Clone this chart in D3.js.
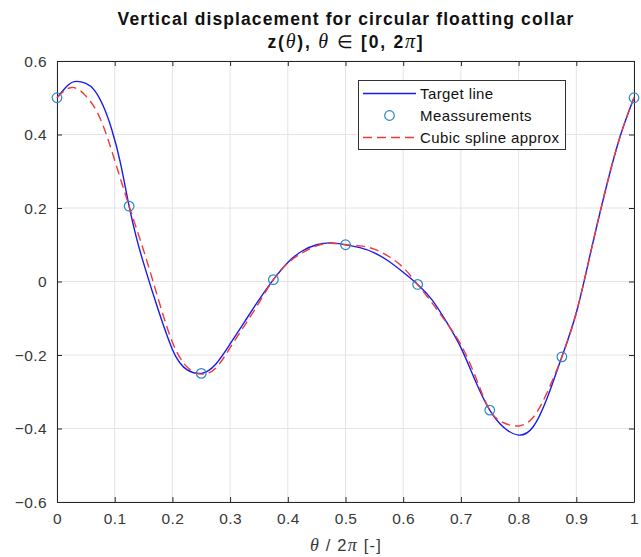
<!DOCTYPE html>
<html><head><meta charset="utf-8">
<script src="https://cdn.jsdelivr.net/npm/d3@7"></script>
<style>body{margin:0;background:#fff;}svg{display:block;font-family:"Liberation Sans",Arial,sans-serif;}</style>
</head><body>
<script>
// Target line samples (theta/2pi, z)
const targetT = [0,0.015,0.03,0.05,0.065,0.08,0.095,0.11,0.125,0.1375,0.15,0.175,0.2,0.2125,0.225,0.25,0.275,0.3,0.325,0.35,0.375,0.4,0.425,0.45,0.475,0.5,0.525,0.55,0.575,0.6,0.625,0.65,0.675,0.7,0.725,0.75,0.775,0.8,0.825,0.85,0.875,0.9,0.925,0.95,0.975,1];
const targetZ = [0.5,0.528,0.544,0.539,0.52,0.478,0.413,0.322,0.205,0.12,0.05,-0.075,-0.185,-0.22,-0.24,-0.25,-0.225,-0.17,-0.11,-0.05,0.005,0.052,0.083,0.1,0.105,0.1,0.092,0.078,0.055,0.025,-0.008,-0.05,-0.11,-0.18,-0.27,-0.35,-0.398,-0.418,-0.396,-0.315,-0.205,-0.085,0.08,0.245,0.39,0.5];
// Measurements
const measT = [0,0.125,0.25,0.375,0.5,0.625,0.75,0.875,1];
const measZ = [0.5,0.205,-0.25,0.005,0.1,-0.008,-0.35,-0.205,0.5];
// Cubic spline approximation samples
const splineT = [0,0.025,0.05,0.075,0.1,0.125,0.15,0.175,0.2,0.225,0.25,0.275,0.3,0.325,0.35,0.375,0.4,0.425,0.45,0.475,0.5,0.525,0.55,0.575,0.6,0.625,0.65,0.675,0.7,0.725,0.75,0.775,0.8,0.825,0.85,0.875,0.9,0.925,0.95,0.975,1];
const splineZ = [0.5,0.528,0.505,0.443,0.33,0.205,0.085,-0.045,-0.165,-0.232,-0.252,-0.236,-0.18,-0.12,-0.058,0.005,0.05,0.078,0.097,0.104,0.1,0.097,0.088,0.068,0.038,-0.008,-0.058,-0.112,-0.172,-0.258,-0.35,-0.385,-0.393,-0.37,-0.3,-0.205,-0.085,0.08,0.245,0.39,0.5];
const xTicks = [0,0.1,0.2,0.3,0.4,0.5,0.6,0.7,0.8,0.9,1];
const yTicks = [-0.6,-0.4,-0.2,0,0.2,0.4,0.6];
const legendLabels = ["Target line","Meassurements","Cubic spline approx"];

const W=641,H=557, L=57, R=634, T=61, B=502;
const svg=d3.select("body").append("svg").attr("width",W).attr("height",H);
const x=d3.scaleLinear().domain([0,1]).range([L,R]);
const y=d3.scaleLinear().domain([-0.6,0.6]).range([B,T]);
const axisCol="#262626";

// grid
svg.append("g").selectAll("line").data(xTicks).join("line")
  .attr("x1",d=>x(d)).attr("x2",d=>x(d)).attr("y1",T).attr("y2",B)
  .attr("stroke","#e4e4e4").attr("stroke-width",1);
svg.append("g").selectAll("line").data(yTicks).join("line")
  .attr("y1",d=>y(d)).attr("y2",d=>y(d)).attr("x1",L).attr("x2",R)
  .attr("stroke","#e4e4e4").attr("stroke-width",1);

// axes
const tl=5;
const xb=svg.append("g").attr("transform",`translate(0,${B})`)
  .call(d3.axisBottom(x).tickValues(xTicks).tickFormat(d3.format("")).tickSizeInner(-tl).tickSizeOuter(0).tickPadding(11));
const xt=svg.append("g").attr("transform",`translate(0,${T})`)
  .call(d3.axisTop(x).tickValues(xTicks).tickFormat("").tickSizeInner(-tl).tickSizeOuter(0));
const yl=svg.append("g").attr("transform",`translate(${L},0)`)
  .call(d3.axisLeft(y).tickValues(yTicks).tickFormat(d3.format("")).tickSizeInner(-tl).tickSizeOuter(0).tickPadding(10));
const yr=svg.append("g").attr("transform",`translate(${R},0)`)
  .call(d3.axisRight(y).tickValues(yTicks).tickFormat("").tickSizeInner(-tl).tickSizeOuter(0));
[xb,xt,yl,yr].forEach(g=>{
  g.selectAll("path,line").attr("stroke",axisCol).attr("stroke-width",1);
  g.selectAll("text").attr("fill","#383838").attr("font-size",15.5).attr("letter-spacing",0.4)
   .attr("font-family","Liberation Sans, Arial, sans-serif");
});
yl.selectAll("text").attr("dy","0.35em");

const line=d3.line().x(d=>x(d[0])).y(d=>y(d[1])).curve(d3.curveNatural);
svg.append("path").datum(targetT.map((t,i)=>[t,targetZ[i]]))
  .attr("d",line).attr("fill","none").attr("stroke","#1a1af0").attr("stroke-width",1.4);
svg.append("path").datum(splineT.map((t,i)=>[t,splineZ[i]]))
  .attr("d",line).attr("fill","none").attr("stroke","#f03a3a").attr("stroke-width",1.4).attr("stroke-dasharray","9,5");
svg.append("g").selectAll("circle").data(measT.map((t,i)=>[t,measZ[i]])).join("circle")
  .attr("cx",d=>x(d[0])).attr("cy",d=>y(d[1])).attr("r",4.8)
  .attr("fill","none").attr("stroke","#2a86c8").attr("stroke-width",1.2);

// title
const title=svg.append("text").attr("x",346).attr("y",25).attr("text-anchor","middle")
  .attr("font-size",17.5).attr("font-weight","bold").attr("fill","#111").attr("letter-spacing",1.1)
  .text("Vertical displacement for circular floatting collar");
const t2=svg.append("text").attr("x",346).attr("y",48).attr("text-anchor","middle")
  .attr("font-size",17.5).attr("font-weight","bold").attr("fill","#111").attr("letter-spacing",1.8);
t2.append("tspan").text("z(");
t2.append("tspan").attr("font-style","italic").attr("font-weight","normal").attr("font-size",20).attr("font-family","Liberation Serif, serif").text("θ");
t2.append("tspan").text("), ");
t2.append("tspan").attr("font-style","italic").attr("font-weight","normal").attr("font-size",20).attr("font-family","Liberation Serif, serif").text("θ");
t2.append("tspan").attr("font-weight","normal").text(" ∈ ");
t2.append("tspan").text("[0, 2");
t2.append("tspan").attr("font-style","italic").attr("font-weight","normal").attr("font-size",20).attr("font-family","Liberation Serif, serif").text("π");
t2.append("tspan").text("]");

// x label
const xlab=svg.append("text").attr("x",346).attr("y",551).attr("text-anchor","middle")
  .attr("font-size",16.5).attr("fill","#383838").attr("letter-spacing",1.2);
xlab.append("tspan").attr("font-style","italic").attr("font-family","Liberation Serif, serif").attr("font-size",18).text("θ");
xlab.append("tspan").text(" / 2");
xlab.append("tspan").attr("font-style","italic").attr("font-family","Liberation Serif, serif").attr("font-size",18).text("π");
xlab.append("tspan").text(" [-]");

// legend
const lg=svg.append("g");
lg.append("rect").attr("x",358.5).attr("y",80.5).attr("width",207).attr("height",69)
  .attr("fill","#fff").attr("stroke","#333").attr("stroke-width",1);
const ly=[93.5,115.5,137.5];
lg.append("line").attr("x1",363).attr("x2",416).attr("y1",ly[0]).attr("y2",ly[0]).attr("stroke","#1a1af0").attr("stroke-width",1.4);
lg.append("circle").attr("cx",389.5).attr("cy",ly[1]).attr("r",4.8).attr("fill","none").attr("stroke","#2a86c8").attr("stroke-width",1.2);
lg.append("line").attr("x1",363).attr("x2",416).attr("y1",ly[2]).attr("y2",ly[2]).attr("stroke","#f03a3a").attr("stroke-width",1.4).attr("stroke-dasharray","9,5");
lg.selectAll("text.l").data(legendLabels).join("text").attr("class","l")
  .attr("x",420).attr("y",(d,i)=>ly[i]).attr("dy","0.35em").attr("font-size",15).attr("letter-spacing",0.4)
  .attr("fill","#111").text(d=>d);
</script>
</body></html>
